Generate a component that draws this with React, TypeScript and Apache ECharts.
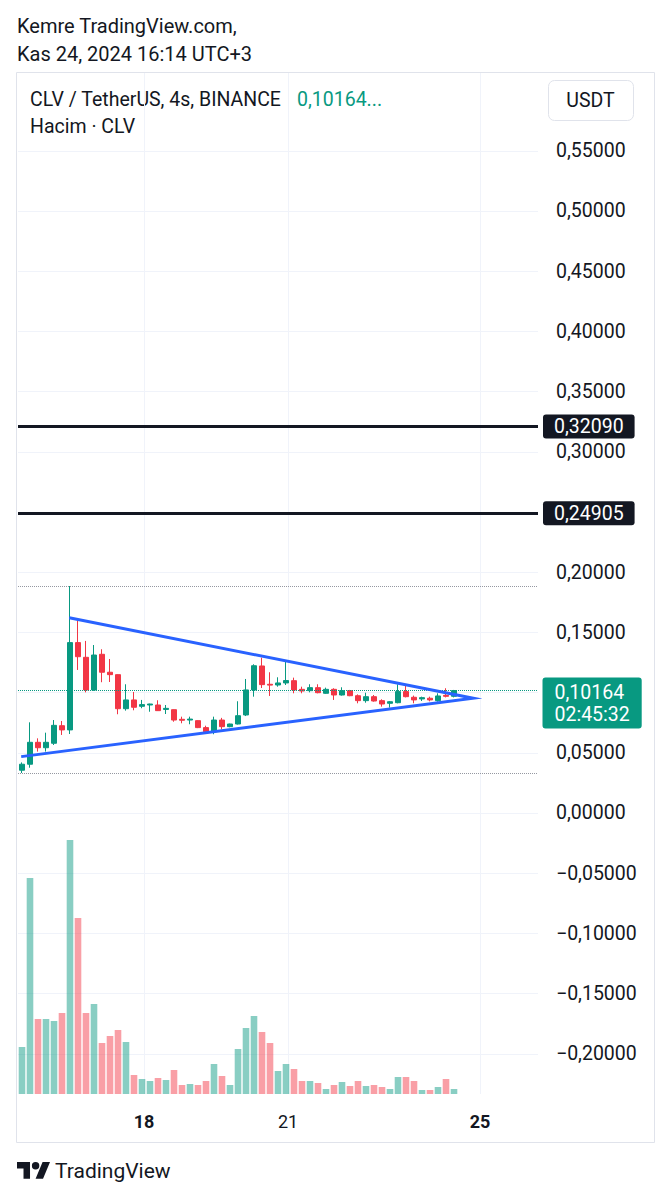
import React, { useEffect, useRef } from "react";
import * as echarts from "echarts";

// ---- Data (4h candles CLV/USDT) ----
const OPEN = [0.0355, 0.0405, 0.0587, 0.0542, 0.0579, 0.0725, 0.069, 0.1415, 0.1293, 0.1022, 0.1318, 0.1169, 0.1149, 0.0866, 0.0939, 0.0886, 0.0897, 0.0897, 0.086, 0.0858, 0.0778, 0.0772, 0.0767, 0.0709, 0.0675, 0.0772, 0.0717, 0.0739, 0.0814, 0.1022, 0.1221, 0.1069, 0.1063, 0.108, 0.1099, 0.1027, 0.1016, 0.1041, 0.0994, 0.1027, 0.098, 0.1016, 0.0974, 0.0933, 0.0966, 0.0933, 0.0911, 0.0916, 0.1008, 0.0961, 0.0947, 0.0953, 0.0933, 0.0977, 0.0969];
const HIGH = [0.042, 0.0753, 0.062, 0.0667, 0.0772, 0.0764, 0.1885, 0.1611, 0.1429, 0.1395, 0.136, 0.1279, 0.1152, 0.1069, 0.1005, 0.0939, 0.0908, 0.0936, 0.0897, 0.086, 0.08, 0.08, 0.077, 0.0725, 0.08, 0.079, 0.0742, 0.0928, 0.1113, 0.1235, 0.129, 0.1169, 0.1127, 0.1265, 0.1124, 0.1049, 0.1069, 0.1069, 0.1041, 0.1036, 0.1044, 0.1022, 0.0985, 0.0999, 0.098, 0.0944, 0.093, 0.1069, 0.1063, 0.0975, 0.0966, 0.0966, 0.0994, 0.1036, 0.1022];
const LOW = [0.0332, 0.0376, 0.051, 0.051, 0.0565, 0.0648, 0.0656, 0.1188, 0.1002, 0.1015, 0.1086, 0.1088, 0.082, 0.085, 0.0853, 0.087, 0.0841, 0.0848, 0.0822, 0.0758, 0.0745, 0.0737, 0.0705, 0.067, 0.0654, 0.0695, 0.0712, 0.0735, 0.0805, 0.0966, 0.1038, 0.0972, 0.1049, 0.1063, 0.0994, 0.0994, 0.1002, 0.0994, 0.099, 0.0939, 0.0975, 0.097, 0.0911, 0.0916, 0.0925, 0.0883, 0.0875, 0.0911, 0.096, 0.0911, 0.093, 0.0927, 0.0925, 0.096, 0.096];
const CLOSE = [0.0405, 0.0587, 0.0542, 0.0587, 0.0728, 0.069, 0.1415, 0.1298, 0.1022, 0.1312, 0.1169, 0.1149, 0.0866, 0.0939, 0.0878, 0.09, 0.0905, 0.085, 0.0869, 0.0772, 0.077, 0.078, 0.0709, 0.0675, 0.0772, 0.0717, 0.0739, 0.0808, 0.1022, 0.1223, 0.1066, 0.1062, 0.108, 0.11, 0.1022, 0.1013, 0.1041, 0.0999, 0.1027, 0.098, 0.1016, 0.0974, 0.0933, 0.0966, 0.093, 0.0905, 0.0924, 0.1008, 0.0966, 0.0939, 0.0958, 0.0939, 0.0972, 0.0969, 0.10164];
// volume (relative units, K CLV)
const VOLUME = [47, 216, 75, 75, 73, 81, 254, 176, 81, 90, 51, 58, 64, 52, 19, 15, 13, 16, 14, 24, 9, 10, 9, 13, 30, 18, 9, 45, 66, 78, 62, 51, 23, 30, 25, 13, 13, 11, 5, 9, 12, 8, 13, 8, 9, 7, 5, 17, 17, 13, 4, 4, 7, 15, 5];

const SLOT_COUNT = 65; // visible bar slots incl. empty right margin
const FIRST_BAR_UTC = Date.UTC(2024, 10, 15, 12, 0); // 15 Nov 15:00 UTC+3
const CATEGORIES: string[] = [];
for (let i = 0; i < SLOT_COUNT; i++) {
  const d = new Date(FIRST_BAR_UTC + i * 4 * 3600 * 1000 + 3 * 3600 * 1000);
  CATEGORIES.push(`${d.getUTCDate()} ${String(d.getUTCHours()).padStart(2, "0")}:00`);
}

const PRICE_TICKS = [-0.2, -0.15, -0.1, -0.05, 0, 0.05, 0.1, 0.15, 0.2, 0.25, 0.3, 0.35, 0.4, 0.45, 0.5, 0.55];
const DAY_TICKS = [15.25, 33.25, 57.25];
const DAY_LABELS = ["18", "21", "25"];
const DAY_BOLD = [true, false, true];

const LEVELS = [0.3209, 0.24905];
const LAST_PRICE = 0.10164;
const TIMER = "02:45:32";
const TRIANGLE: [number, number][] = [
  [5.9, 0.1622],
  [56.4, 0.0953],
  [-0.1, 0.0468],
];

const GREEN = "#089981";
const RED = "#f23645";
const INK = "#131722";
const FONT = 'Roboto, "Noto Sans", sans-serif';

const fmtPrice = (v: number) =>
  (v < -1e-9 ? "\u2212" : "") + Math.abs(v).toFixed(5).replace(".", ",");

echarts.graphic.registerShape(
  "tvlogo",
  echarts.graphic.extendPath(
    "M14 22H7V11H0V4h14v18zM28 22h-8l7.5-18h8L28 22zM24 8A4 4 0 1 1 16 8A4 4 0 1 1 24 8Z",
    {}
  ) as any
);

export default function App() {
  const ref = useRef<HTMLDivElement>(null);
  useEffect(() => {
    if (!ref.current) return;
    const chart = echarts.init(ref.current, null, { renderer: "svg" });
    const highMax = Math.max(...HIGH);
    const lowMin = Math.min(...LOW);

    const levelLabel = {
      show: true,
      position: "end",
      distance: 5,
      formatter: (p: any) => fmtPrice(p.value),
      color: "#fff",
      backgroundColor: INK,
      fontFamily: FONT,
      fontSize: 19.5,
      lineHeight: 20,
      padding: [2, 11, 2, 11],
      borderRadius: 3,
    };

    chart.setOption({
      animation: false,
      backgroundColor: "#fff",
      grid: [
        { left: 18, top: 73, width: 520, height: 1021 },
        { left: 18, top: 794, width: 520, height: 300 },
      ],
      xAxis: [
        {
          type: "category",
          gridIndex: 0,
          position: "bottom",
          data: CATEGORIES,
          boundaryGap: true,
          axisLine: { show: false },
          axisTick: { show: false },
          axisLabel: { show: false },
          splitLine: { show: false },
        },
        {
          type: "value",
          gridIndex: 0,
          position: "top",
          min: -0.5,
          max: SLOT_COUNT - 0.5,
          axisLine: { show: false },
          axisTick: { show: false, customValues: DAY_TICKS },
          axisLabel: { show: false },
          splitLine: { show: true, lineStyle: { color: "#f0f3fa", width: 1 } },
        },
        {
          type: "category",
          gridIndex: 1,
          position: "top",
          data: CATEGORIES,
          boundaryGap: true,
          show: false,
        },
        {
          type: "value",
          gridIndex: 1,
          position: "bottom",
          min: -0.5,
          max: SLOT_COUNT - 0.5,
          axisLine: { show: false, onZero: false },
          axisTick: { show: false, customValues: DAY_TICKS },
          splitLine: { show: false },
          axisLabel: {
            show: true,
            customValues: DAY_TICKS,
            margin: 18,
            fontFamily: FONT,
            fontSize: 18,
            color: INK,
            formatter: (v: number) => {
              const k = DAY_TICKS.findIndex((t) => Math.abs(t - v) < 0.01);
              if (k < 0) return "";
              return DAY_BOLD[k] ? `{b|${DAY_LABELS[k]}}` : `{n|${DAY_LABELS[k]}}`;
            },
            rich: {
              b: { fontFamily: FONT, fontSize: 18, fontWeight: "bold", color: INK },
              n: { fontFamily: FONT, fontSize: 18, color: INK },
            },
          },
        },
      ],
      yAxis: [
        {
          type: "value",
          gridIndex: 0,
          position: "right",
          min: -0.2334,
          max: 0.6146,
          axisLine: { show: false },
          axisTick: { show: false, customValues: PRICE_TICKS },
          axisLabel: {
            show: true,
            customValues: PRICE_TICKS,
            margin: 18,
            fontFamily: FONT,
            fontSize: 19.5,
            color: INK,
            formatter: (v: number) => fmtPrice(v),
          },
          splitLine: { show: true, lineStyle: { color: "#f0f3fa", width: 1 } },
        },
        {
          type: "value",
          gridIndex: 1,
          min: 0,
          max: 300,
          show: false,
          splitLine: { show: false },
        },
      ],
      series: [
        {
          type: "bar",
          xAxisIndex: 2,
          yAxisIndex: 1,
          barWidth: 6.6,
          data: VOLUME.map((v, i) => ({
            value: v,
            itemStyle: {
              color: CLOSE[i] >= OPEN[i] ? "rgba(8,153,129,0.48)" : "rgba(242,54,69,0.48)",
            },
          })),
        },
        {
          type: "candlestick",
          xAxisIndex: 0,
          yAxisIndex: 0,
          barWidth: 6,
          data: OPEN.map((o, i) => [o, CLOSE[i], LOW[i], HIGH[i]]),
          itemStyle: {
            color: GREEN,
            color0: RED,
            borderColor: GREEN,
            borderColor0: RED,
            borderWidth: 1,
          },
          markLine: {
            silent: true,
            symbol: ["none", "none"],
            precision: 5,
            data: [
              { yAxis: highMax, lineStyle: { color: "#9598a1", type: "dotted", width: 1 }, label: { show: false } },
              { yAxis: lowMin, lineStyle: { color: "#9598a1", type: "dotted", width: 1 }, label: { show: false } },
              { yAxis: LAST_PRICE, lineStyle: { color: GREEN, type: "dotted", width: 1 }, label: { show: false } },
              ...LEVELS.map((lv) => ({
                yAxis: lv,
                lineStyle: { color: INK, type: "solid", width: 3 },
                label: levelLabel,
              })),
            ],
          },
        },
        {
          type: "line",
          xAxisIndex: 1,
          yAxisIndex: 0,
          data: TRIANGLE,
          symbol: "none",
          lineStyle: { color: "#2962ff", width: 3, join: "miter", miterLimit: 20 },
          z: 5,
          markPoint: {
            silent: true,
            symbol: "circle",
            symbolSize: 1,
            itemStyle: { color: "rgba(0,0,0,0)" },
            data: [
              {
                coord: [SLOT_COUNT - 0.5, LAST_PRICE],
                label: {
                  show: true,
                  position: [5, -12.5],
                  formatter: fmtPrice(LAST_PRICE) + "\n" + TIMER,
                  color: "#fff",
                  backgroundColor: GREEN,
                  fontFamily: FONT,
                  fontSize: 19.5,
                  lineHeight: 22,
                  padding: [4, 12, 3, 12],
                  borderRadius: 3,
                },
              },
            ],
          },
        },
      ],
      graphic: [
        {
          type: "rect",
          silent: true,
          shape: { x: 16.5, y: 72.5, width: 638, height: 1070 },
          style: { fill: "none", stroke: "#e0e3eb", lineWidth: 1 },
          z: 0,
        },
        {
          type: "text",
          x: 17,
          y: 26,
          style: { text: "Kemre TradingView.com,", fill: INK, font: `20px ${FONT}`, verticalAlign: "middle" },
        },
        {
          type: "text",
          x: 17,
          y: 54,
          style: { text: "Kas 24, 2024 16:14 UTC+3", fill: INK, font: `20px ${FONT}`, verticalAlign: "middle" },
        },
        {
          type: "text",
          x: 30,
          y: 99,
          style: { text: "CLV / TetherUS, 4s, BINANCE", fill: INK, font: `19.5px ${FONT}`, verticalAlign: "middle" },
        },
        {
          type: "text",
          x: 297,
          y: 99,
          style: { text: fmtPrice(LAST_PRICE) + "...", fill: GREEN, font: `19.5px ${FONT}`, verticalAlign: "middle" },
        },
        {
          type: "text",
          x: 30,
          y: 126,
          style: { text: "Hacim · CLV", fill: INK, font: `19.5px ${FONT}`, verticalAlign: "middle" },
        },
        {
          type: "rect",
          shape: { x: 548.5, y: 80.5, width: 85, height: 40, r: 6 },
          style: { fill: "#fff", stroke: "#e0e3eb", lineWidth: 1 },
        },
        {
          type: "text",
          x: 590.5,
          y: 100.5,
          style: { text: "USDT", fill: INK, font: `19.5px ${FONT}`, align: "center", verticalAlign: "middle" },
        },
        {
          type: "tvlogo",
          x: 17,
          y: 1158.3,
          scaleX: 0.93,
          scaleY: 0.93,
          style: { fill: INK },
        },
        {
          type: "text",
          x: 55,
          y: 1171,
          style: { text: "TradingView", fill: INK, font: `21px ${FONT}`, verticalAlign: "middle" },
        },
      ],
    });
    return () => chart.dispose();
  }, []);
  return (
    <div
      ref={ref}
      style={{ position: "absolute", left: 0, top: 0, width: 671, height: 1200, background: "#fff" }}
    />
  );
}
